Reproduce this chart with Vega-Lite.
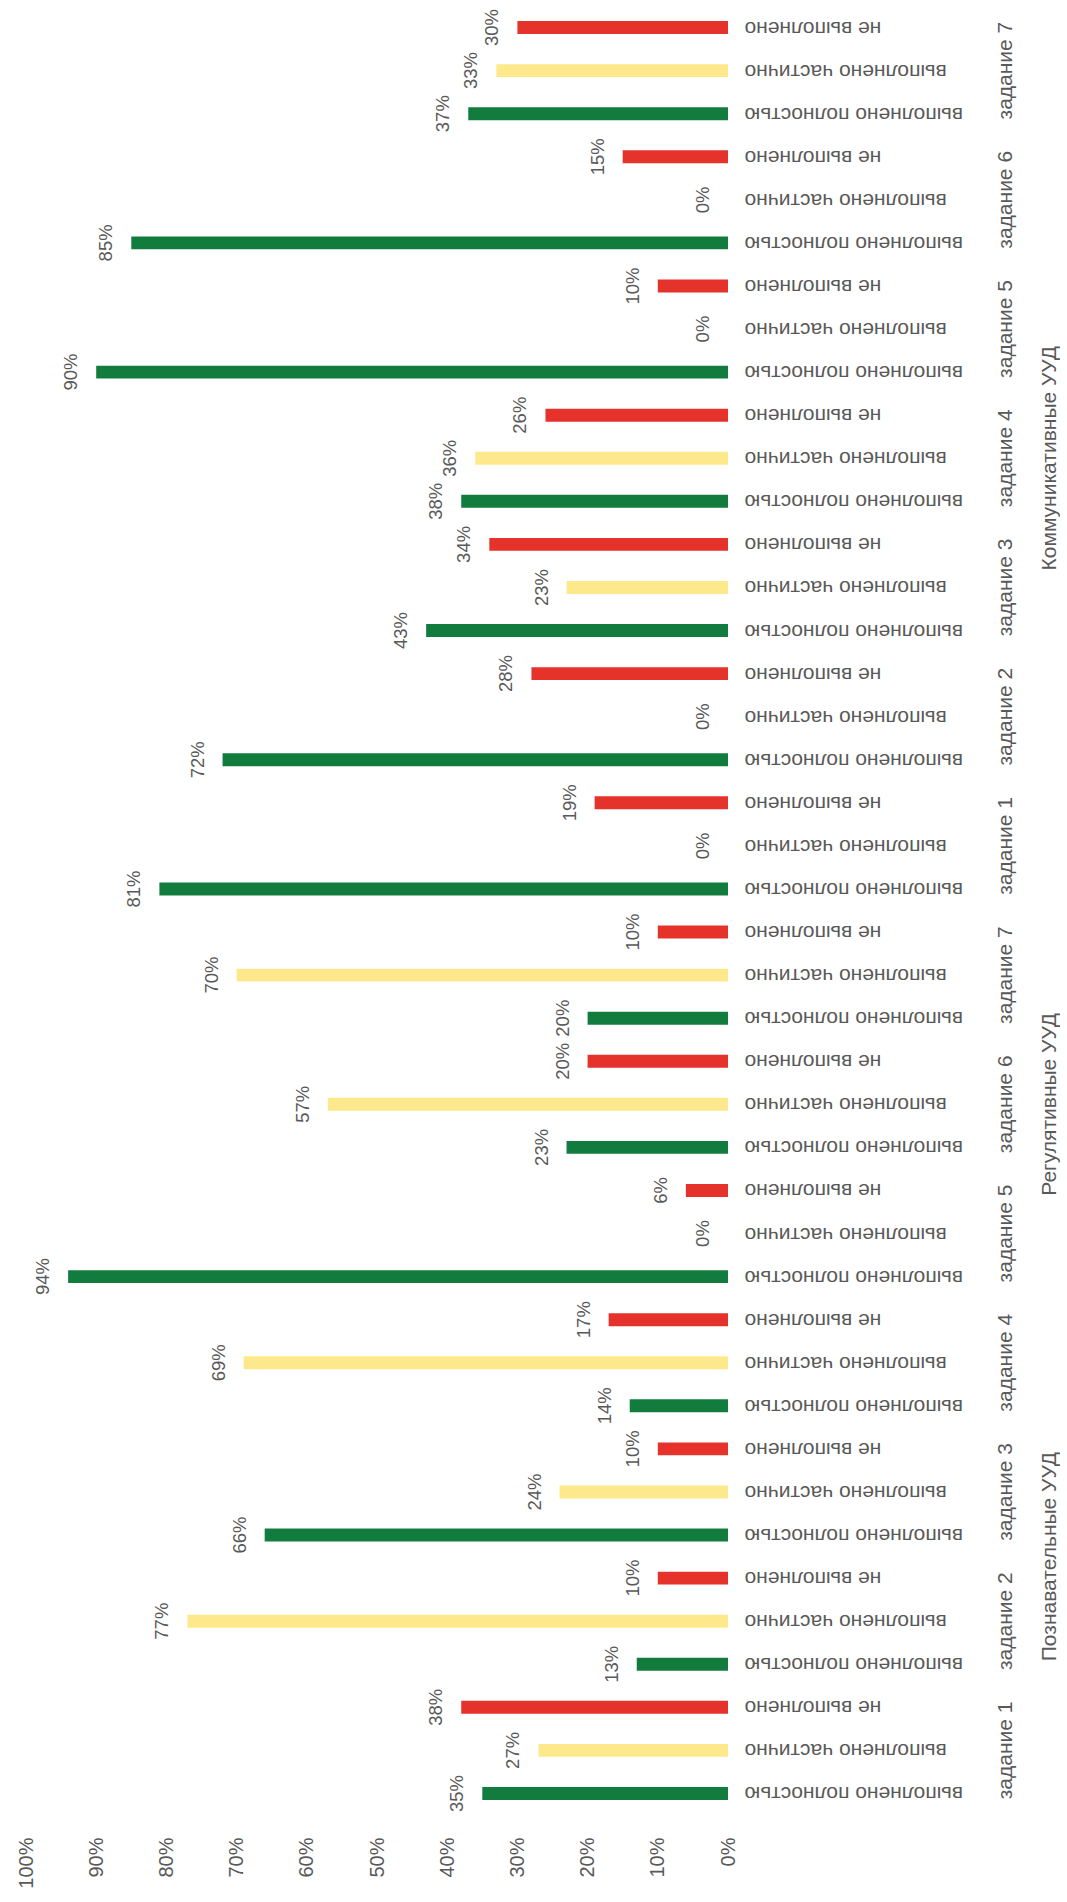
{
  "$schema": "https://vega.github.io/schema/vega-lite/v6.json",
  "width": 702,
  "height": 1809,
  "padding": {"left": 16, "top": 6, "right": 0, "bottom": 0},
  "autosize": {"type": "pad"},
  "background": "white",
  "config": {"view": {"stroke": null}, "font": "Liberation Sans"},
  "data": {"values": [
    {"group": "Познавательные УУД", "task": "задание 1", "status": "выполнено полностью", "value": 0.35},
    {"group": "Познавательные УУД", "task": "задание 1", "status": "выполнено частично", "value": 0.27},
    {"group": "Познавательные УУД", "task": "задание 1", "status": "не выполнено", "value": 0.38},
    {"group": "Познавательные УУД", "task": "задание 2", "status": "выполнено полностью", "value": 0.13},
    {"group": "Познавательные УУД", "task": "задание 2", "status": "выполнено частично", "value": 0.77},
    {"group": "Познавательные УУД", "task": "задание 2", "status": "не выполнено", "value": 0.10},
    {"group": "Познавательные УУД", "task": "задание 3", "status": "выполнено полностью", "value": 0.66},
    {"group": "Познавательные УУД", "task": "задание 3", "status": "выполнено частично", "value": 0.24},
    {"group": "Познавательные УУД", "task": "задание 3", "status": "не выполнено", "value": 0.10},
    {"group": "Познавательные УУД", "task": "задание 4", "status": "выполнено полностью", "value": 0.14},
    {"group": "Познавательные УУД", "task": "задание 4", "status": "выполнено частично", "value": 0.69},
    {"group": "Познавательные УУД", "task": "задание 4", "status": "не выполнено", "value": 0.17},
    {"group": "Регулятивные УУД", "task": "задание 5", "status": "выполнено полностью", "value": 0.94},
    {"group": "Регулятивные УУД", "task": "задание 5", "status": "выполнено частично", "value": 0},
    {"group": "Регулятивные УУД", "task": "задание 5", "status": "не выполнено", "value": 0.06},
    {"group": "Регулятивные УУД", "task": "задание 6", "status": "выполнено полностью", "value": 0.23},
    {"group": "Регулятивные УУД", "task": "задание 6", "status": "выполнено частично", "value": 0.57},
    {"group": "Регулятивные УУД", "task": "задание 6", "status": "не выполнено", "value": 0.20},
    {"group": "Регулятивные УУД", "task": "задание 7", "status": "выполнено полностью", "value": 0.20},
    {"group": "Регулятивные УУД", "task": "задание 7", "status": "выполнено частично", "value": 0.70},
    {"group": "Регулятивные УУД", "task": "задание 7", "status": "не выполнено", "value": 0.10},
    {"group": "Коммуникативные УУД", "task": "задание 1", "status": "выполнено полностью", "value": 0.81},
    {"group": "Коммуникативные УУД", "task": "задание 1", "status": "выполнено частично", "value": 0},
    {"group": "Коммуникативные УУД", "task": "задание 1", "status": "не выполнено", "value": 0.19},
    {"group": "Коммуникативные УУД", "task": "задание 2", "status": "выполнено полностью", "value": 0.72},
    {"group": "Коммуникативные УУД", "task": "задание 2", "status": "выполнено частично", "value": 0},
    {"group": "Коммуникативные УУД", "task": "задание 2", "status": "не выполнено", "value": 0.28},
    {"group": "Коммуникативные УУД", "task": "задание 3", "status": "выполнено полностью", "value": 0.43},
    {"group": "Коммуникативные УУД", "task": "задание 3", "status": "выполнено частично", "value": 0.23},
    {"group": "Коммуникативные УУД", "task": "задание 3", "status": "не выполнено", "value": 0.34},
    {"group": "Коммуникативные УУД", "task": "задание 4", "status": "выполнено полностью", "value": 0.38},
    {"group": "Коммуникативные УУД", "task": "задание 4", "status": "выполнено частично", "value": 0.36},
    {"group": "Коммуникативные УУД", "task": "задание 4", "status": "не выполнено", "value": 0.26},
    {"group": "Коммуникативные УУД", "task": "задание 5", "status": "выполнено полностью", "value": 0.90},
    {"group": "Коммуникативные УУД", "task": "задание 5", "status": "выполнено частично", "value": 0},
    {"group": "Коммуникативные УУД", "task": "задание 5", "status": "не выполнено", "value": 0.10},
    {"group": "Коммуникативные УУД", "task": "задание 6", "status": "выполнено полностью", "value": 0.85},
    {"group": "Коммуникативные УУД", "task": "задание 6", "status": "выполнено частично", "value": 0},
    {"group": "Коммуникативные УУД", "task": "задание 6", "status": "не выполнено", "value": 0.15},
    {"group": "Коммуникативные УУД", "task": "задание 7", "status": "выполнено полностью", "value": 0.37},
    {"group": "Коммуникативные УУД", "task": "задание 7", "status": "выполнено частично", "value": 0.33},
    {"group": "Коммуникативные УУД", "task": "задание 7", "status": "не выполнено", "value": 0.30}
  ]},
  "transform": [
    {"calculate": "datum.group + '|' + datum.task + '|' + datum.status", "as": "key"}
  ],
  "encoding": {
    "y": {
      "field": "key",
      "type": "nominal",
      "sort": null,
      "scale": {"reverse": true, "paddingInner": 0, "paddingOuter": 0},
      "axis": {
        "orient": "right",
        "title": null,
        "domain": false,
        "ticks": false,
        "labelAngle": 180,
        "labelAlign": "right",
        "labelBaseline": "middle",
        "labelPadding": 16,
        "labelFontSize": 21,
        "labelColor": "#595959",
        "labelLimit": 0,
        "labelExpr": "split(datum.label, '|')[2]"
      }
    }
  },
  "layer": [
    {
      "mark": {"type": "bar", "height": {"band": 0.3}},
      "encoding": {
        "x": {
          "field": "value",
          "type": "quantitative",
          "scale": {"domain": [0, 1], "reverse": true, "nice": false},
          "axis": {
            "orient": "bottom",
            "title": null,
            "domain": false,
            "ticks": false,
            "grid": false,
            "values": [0, 0.1, 0.2, 0.3, 0.4, 0.5, 0.6, 0.7, 0.8, 0.9, 1],
            "format": ".0%",
            "labelAngle": 270,
            "labelAlign": "right",
            "labelBaseline": "middle",
            "labelPadding": 22,
            "labelFontSize": 20,
            "labelColor": "#595959",
            "labelFlush": false,
            "labelOverlap": false
          }
        },
        "color": {
          "field": "status",
          "type": "nominal",
          "scale": {
            "domain": ["выполнено полностью", "выполнено частично", "не выполнено"],
            "range": ["#127c3e", "#fde98b", "#e5322b"]
          },
          "legend": null
        }
      }
    },
    {
      "mark": {"type": "text", "angle": 270, "align": "center", "baseline": "middle", "dy": -25, "fontSize": 18.5, "color": "#595959"},
      "encoding": {
        "x": {"field": "value", "type": "quantitative"},
        "text": {"field": "value", "type": "quantitative", "format": ".0%"}
      }
    },
    {
      "transform": [{"filter": "datum.status === 'выполнено частично'"}],
      "mark": {"type": "text", "angle": 270, "align": "center", "baseline": "middle", "dy": 278, "fontSize": 21, "color": "#595959"},
      "encoding": {
        "x": {"datum": 0, "type": "quantitative"},
        "text": {"field": "task", "type": "nominal"}
      }
    },
    {
      "transform": [{"filter": "(datum.group === 'Регулятивные УУД' && datum.task === 'задание 6' && datum.status === 'выполнено частично') || (datum.group === 'Коммуникативные УУД' && datum.task === 'задание 4' && datum.status === 'выполнено частично')"}],
      "mark": {"type": "text", "angle": 270, "align": "center", "baseline": "middle", "dy": 322, "fontSize": 21, "color": "#595959"},
      "encoding": {
        "x": {"datum": 0, "type": "quantitative"},
        "text": {"field": "group", "type": "nominal"}
      }
    },
    {
      "transform": [{"filter": "datum.group === 'Познавательные УУД' && datum.task === 'задание 2' && datum.status === 'не выполнено'"}],
      "mark": {"type": "text", "angle": 270, "align": "center", "baseline": "middle", "dy": 322, "dx": 21.5, "fontSize": 21, "color": "#595959"},
      "encoding": {
        "x": {"datum": 0, "type": "quantitative"},
        "text": {"field": "group", "type": "nominal"}
      }
    }
  ]
}
